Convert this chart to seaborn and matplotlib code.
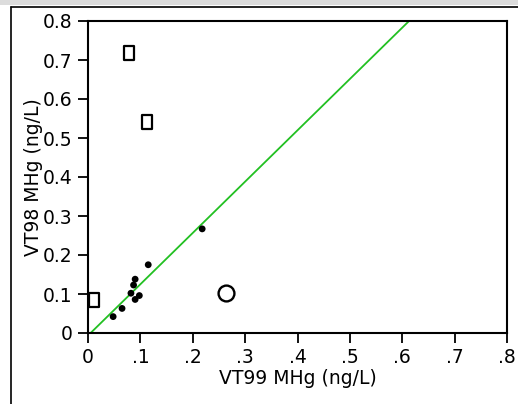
import matplotlib
matplotlib.use("Agg")
import matplotlib.pyplot as plt
import seaborn as sns
import numpy as np
import pandas as pd
from matplotlib.path import Path
from matplotlib.lines import Line2D
from matplotlib.patches import Rectangle

sns.set_style("white")
plt.rcParams['font.family'] = ['DejaVu Sans']
plt.rcParams['text.color'] = 'black'
plt.rcParams['axes.labelcolor'] = 'black'
plt.rcParams['xtick.color'] = 'black'
plt.rcParams['ytick.color'] = 'black'

# data
dot_x = [0.048, 0.065, 0.082, 0.087, 0.090, 0.090, 0.098, 0.115, 0.218]
dot_y = [0.042, 0.063, 0.102, 0.123, 0.138, 0.086, 0.096, 0.175, 0.267]
sq_x = [0.012, 0.079, 0.112]
sq_y = [0.085, 0.719, 0.542]
circ_x = [0.263]
circ_y = [0.103]
line_x = [0.005, 0.613]
line_y = [0.0, 0.8]
x_ticks = [0, 0.1, 0.2, 0.3, 0.4, 0.5, 0.6, 0.7, 0.8]
x_labels = ["0", ".1", ".2", ".3", ".4", ".5", ".6", ".7", ".8"]
y_ticks = [0, 0.1, 0.2, 0.3, 0.4, 0.5, 0.6, 0.7, 0.8]
y_labels = ["0", "0.1", "0.2", "0.3", "0.4", "0.5", "0.6", "0.7", "0.8"]

W, H = 518, 404
fig = plt.figure(figsize=(W / 100, H / 100), dpi=100)
fig.patch.set_facecolor("white")
ax = fig.add_axes([88 / W, 1 - 333 / H, (507 - 88) / W, (333 - 21) / H])

# outer frame decorations
fig.add_artist(Rectangle((0, 1 - 5 / H), 1, 5 / H, transform=fig.transFigure,
                         facecolor="#dcdcdc", edgecolor="none"))
fig.add_artist(Line2D([11 / W, 1], [1 - 6.5 / H, 1 - 6.5 / H], transform=fig.transFigure,
                      color="black", lw=1.2))
fig.add_artist(Line2D([11 / W, 11 / W], [0, 1 - 6.5 / H], transform=fig.transFigure,
                      color="black", lw=1.2))

sns.lineplot(x=line_x, y=line_y, ax=ax, color="#22c022", lw=1.3, zorder=2)

rect_marker = Path([(-0.75, -1), (0.75, -1), (0.75, 1), (-0.75, 1), (-0.75, -1)],
                   [Path.MOVETO, Path.LINETO, Path.LINETO, Path.LINETO, Path.CLOSEPOLY])

sns.scatterplot(x=dot_x, y=dot_y, ax=ax, color="black", s=24, edgecolor="none", zorder=3)
sns.scatterplot(x=sq_x, y=sq_y, ax=ax, marker=rect_marker, s=110, facecolor="white",
                edgecolor="black", linewidth=1.6, zorder=3)
sns.scatterplot(x=circ_x, y=circ_y, ax=ax, marker="o", s=130, facecolor="white",
                edgecolor="black", linewidth=1.7, zorder=3)

ax.set_xlim(0, 0.8)
ax.set_ylim(0, 0.8)
ax.set_xticks(x_ticks)
ax.set_xticklabels(x_labels)
ax.set_yticks(y_ticks)
ax.set_yticklabels(y_labels)
ax.tick_params(axis="both", which="both", direction="out", length=7, width=1.3,
               color="black", labelcolor="black", labelsize=13.5,
               bottom=True, left=True, pad=4)
for s in ax.spines.values():
    s.set_color("black")
    s.set_linewidth(1.5)
ax.set_xlabel("VT99 MHg (ng/L)", fontsize=13.5, labelpad=1, color="black")
ax.set_ylabel("VT98 MHg (ng/L)", fontsize=13.5, labelpad=0, color="black")

fig.savefig("out.png", dpi=100)
